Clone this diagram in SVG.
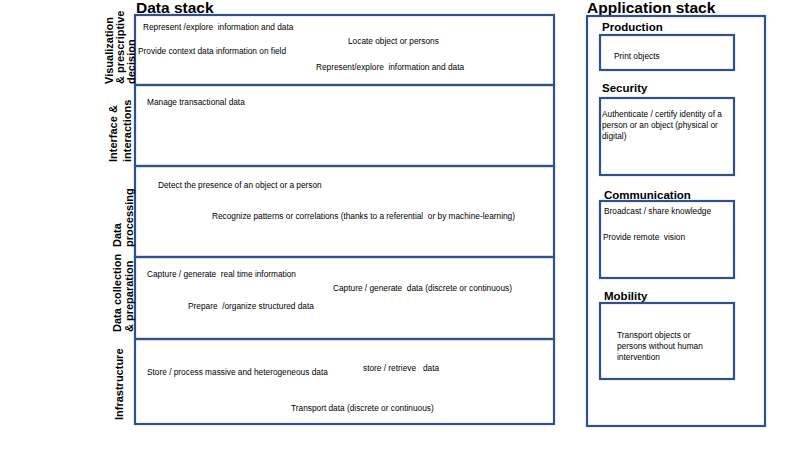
<svg xmlns="http://www.w3.org/2000/svg" width="800" height="450" viewBox="0 0 800 450">
<style>
.box{fill:none;stroke:#2F528F;stroke-width:2.2}
.t{font-family:"Liberation Sans",Arial,sans-serif;font-size:8.3px;fill:#000;white-space:pre}
.h{font-family:"Liberation Sans",Arial,sans-serif;font-size:15.5px;font-weight:bold;fill:#000}
.s{font-family:"Liberation Sans",Arial,sans-serif;font-size:11.5px;font-weight:bold;fill:#000}
.v{font-family:"Liberation Sans",Arial,sans-serif;font-size:11px;font-weight:bold;fill:#000;text-anchor:start}
</style>
<rect width="800" height="450" fill="#fff"/>
<g id="data-stack">
<text class="h" x="136" y="13">Data stack</text>
<g id="layer-visualization">
<rect class="box" x="135" y="15" width="419" height="70"/>
<text class="v" transform="translate(112.5,84) rotate(-90)">Visualization</text>
<text class="v" transform="translate(124,84) rotate(-90)">&amp; prescriptive</text>
<text class="v" transform="translate(135,84) rotate(-90)">decision</text>
<text class="t" x="143" y="29.5" xml:space="preserve">Represent /explore  information and data</text>
<text class="t" x="138" y="54">Provide context data information on field</text>
<text class="t" x="348" y="44">Locate object or persons</text>
<text class="t" x="316" y="69.5" xml:space="preserve">Represent/explore  information and data</text>
</g>
<g id="layer-interface">
<rect class="box" x="135" y="85" width="419" height="81"/>
<text class="v" transform="translate(117,162) rotate(-90)">Interface &amp;</text>
<text class="v" transform="translate(130.5,162) rotate(-90)">interactions</text>
<text class="t" x="147" y="104.5">Manage transactional data</text>
</g>
<g id="layer-processing">
<rect class="box" x="135" y="166" width="419" height="91"/>
<text class="v" transform="translate(121,247) rotate(-90)">Data</text>
<text class="v" transform="translate(132.5,247) rotate(-90)">processing</text>
<text class="t" x="158" y="188">Detect the presence of an object or a person</text>
<text class="t" x="212" y="218.5" xml:space="preserve">Recognize patterns or correlations (thanks to a referential  or by machine-learning)</text>
</g>
<g id="layer-collection">
<rect class="box" x="135" y="257" width="419" height="82"/>
<text class="v" transform="translate(121,332) rotate(-90)">Data collection</text>
<text class="v" transform="translate(132.5,332) rotate(-90)">&amp; preparation</text>
<text class="t" x="147" y="277" xml:space="preserve">Capture / generate  real time information</text>
<text class="t" x="333" y="291" xml:space="preserve">Capture / generate  data (discrete or continuous)</text>
<text class="t" x="188" y="309" xml:space="preserve">Prepare  /organize structured data</text>
</g>
<g id="layer-infrastructure">
<rect class="box" x="135" y="339" width="419" height="85"/>
<text class="v" transform="translate(123,420) rotate(-90)">Infrastructure</text>
<text class="t" x="147" y="374.5">Store / process massive and heterogeneous data</text>
<text class="t" x="363" y="371" xml:space="preserve">store / retrieve   data</text>
<text class="t" x="291" y="410.5">Transport data (discrete or continuous)</text>
</g>
</g>
<g id="application-stack">
<text class="h" x="587" y="13">Application stack</text>
<rect class="box" x="587" y="16" width="178" height="410"/>
<g id="app-production">
<text class="s" x="602" y="31">Production</text>
<rect class="box" x="600" y="35" width="134" height="35"/>
<text class="t" x="614" y="59">Print objects</text>
</g>
<g id="app-security">
<text class="s" x="602" y="92">Security</text>
<rect class="box" x="600" y="98" width="134" height="77"/>
<text class="t" x="602" y="116.5">Authenticate / certify identity of a</text>
<text class="t" x="602" y="127.5">person or an object (physical or</text>
<text class="t" x="602" y="138.5">digital)</text>
</g>
<g id="app-communication">
<text class="s" x="604" y="199">Communication</text>
<rect class="box" x="600" y="201" width="134" height="77"/>
<text class="t" x="604" y="214">Broadcast / share knowledge</text>
<text class="t" x="603" y="239.5" xml:space="preserve">Provide remote  vision</text>
</g>
<g id="app-mobility">
<text class="s" x="604" y="300">Mobility</text>
<rect class="box" x="600" y="303" width="134" height="76"/>
<text class="t" x="617" y="338">Transport objects or</text>
<text class="t" x="617" y="349">persons without human</text>
<text class="t" x="617" y="360">intervention</text>
</g>
</g>
<g id="connectors"/>
</svg>
